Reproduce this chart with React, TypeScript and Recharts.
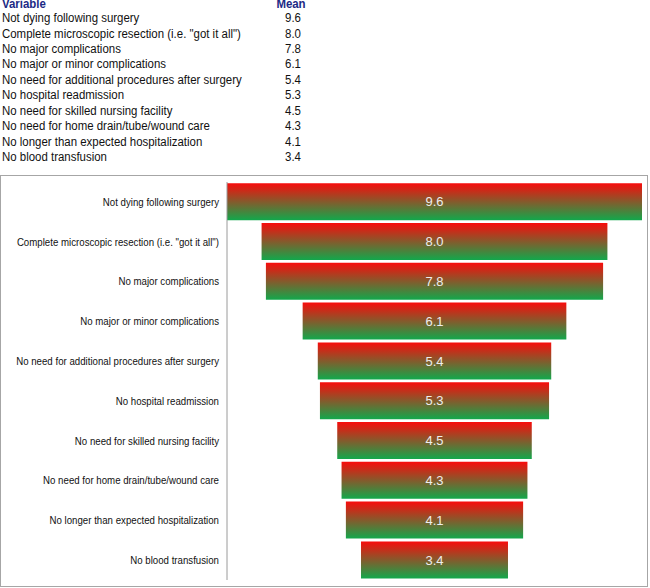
import { Bar, BarChart, LabelList, XAxis, YAxis } from "recharts";

const variables = [
  "Not dying following surgery",
  'Complete microscopic resection (i.e. "got it all")',
  "No major complications",
  "No major or minor complications",
  "No need for additional procedures after surgery",
  "No hospital readmission",
  "No need for skilled nursing facility",
  "No need for home drain/tube/wound care",
  "No longer than expected hospitalization",
  "No blood transfusion",
];

const means = [9.6, 8.0, 7.8, 6.1, 5.4, 5.3, 4.5, 4.3, 4.1, 3.4];

const maxMean = Math.max(...means);

// funnel: an invisible bar pushes each real bar to the centre
const chartData = variables.map((name, i) => ({
  name,
  value: means[i],
  pad: (maxMean - means[i]) / 2,
}));

const FONT = '"Liberation Sans", Arial, sans-serif';

function NameTick(props: any) {
  const { x, y, payload } = props;
  return (
    <text
      transform={`translate(${x},${y}) scale(0.88,1)`}
      textAnchor="end"
      dy="0.36em"
      fontSize={11}
      fill="#111"
      fontFamily={FONT}
    >
      {payload.value}
    </text>
  );
}

function MeanTable() {
  const rowH = 15.44;
  const top = -4.3;
  const cell = (left: number, t: number, center: boolean) => ({
    position: "absolute" as const,
    left,
    top: t,
    width: center ? 60 : undefined,
    textAlign: center ? ("center" as const) : undefined,
    whiteSpace: "nowrap" as const,
    transform: "scaleX(0.953)",
    transformOrigin: center ? "50% 0" : "0 0",
  });
  const head = { fontWeight: "bold" as const, color: "#1c2a85", lineHeight: "13.4px" };
  return (
    <div style={{ position: "absolute", left: 0, top: 0, width: 340, height: 170, fontSize: 12, lineHeight: `${rowH}px`, color: "#111" }}>
      <div style={{ ...cell(2, -1.6, false), ...head }}>Variable</div>
      <div style={{ ...cell(261.2, -1.6, true), ...head }}>Mean</div>
      {variables.map((v, i) => (
        <div key={v}>
          <div style={cell(2, top + rowH * (i + 1), false)}>{v}</div>
          <div style={cell(262.8, top + rowH * (i + 1), true)}>{means[i].toFixed(1)}</div>
        </div>
      ))}
    </div>
  );
}

export default function App() {
  return (
    <div style={{ position: "absolute", left: 0, top: 0, width: 650, height: 588, background: "#fff", fontFamily: FONT }}>
      <MeanTable />
      <div
        style={{
          position: "absolute",
          left: 0,
          top: 175,
          width: 646,
          height: 410,
          border: "1px solid #a6a6a6",
        }}
      >
        <BarChart
          width={646}
          height={410}
          data={chartData}
          layout="vertical"
          barCategoryGap={1.2}
          margin={{ top: 6, right: 5, left: 6, bottom: 6 }}
        >
          <defs>
            <linearGradient id="redGreen" x1="0" y1="0" x2="0" y2="1">
              <stop offset="0%" stopColor="#f80c0c" />
              <stop offset="100%" stopColor="#12a84c" />
            </linearGradient>
          </defs>
          <XAxis type="number" hide domain={[0, maxMean]} />
          <YAxis
            type="category"
            dataKey="name"
            width={220}
            axisLine={{ stroke: "#9a9a9a" }}
            tickLine={false}
            tick={<NameTick />}
            interval={0}
          />
          <Bar dataKey="pad" stackId="a" fill="transparent" isAnimationActive={false} />
          <Bar dataKey="value" stackId="a" fill="url(#redGreen)" isAnimationActive={false}>
            <LabelList
              dataKey="value"
              position="center"
              fill="#eeeeee"
              fontSize={13}
              fontFamily={FONT}
              formatter={(v: any) => Number(v).toFixed(1)}
            />
          </Bar>
        </BarChart>
      </div>
    </div>
  );
}
